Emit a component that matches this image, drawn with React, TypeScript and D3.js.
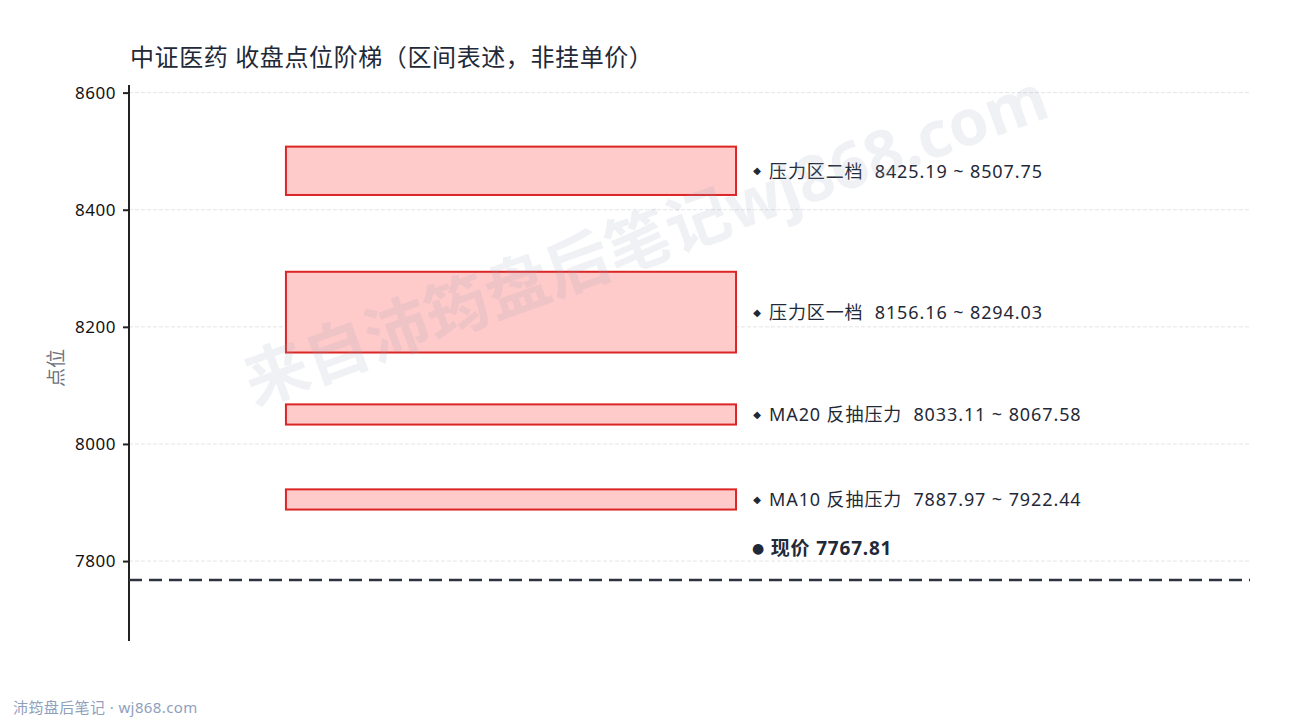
import React, { useEffect, useRef } from "react";
import * as d3 from "d3";

// Data
const zoneNames = ["压力区二档", "压力区一档", "MA20 反抽压力", "MA10 反抽压力"];
const zoneLow = [8425.19, 8156.16, 8033.11, 7887.97];
const zoneHigh = [8507.75, 8294.03, 8067.58, 7922.44];
const currentPrice = 7767.81;
const yTicks = [7800, 8000, 8200, 8400, 8600];

const W = 1290;
const H = 720;
const FONT = "'Noto Sans', 'Noto Sans CJK SC', sans-serif";

export default function App() {
    const svgRef = useRef<SVGSVGElement | null>(null);

    useEffect(() => {
        if (!svgRef.current) return;
        const svg = d3.select(svgRef.current);
        svg.selectAll("*").remove();

        const left = 129, right = 1250, top = 85, bottom = 641;
        const x = d3.scaleLinear().domain([0, 1]).range([left, right]);
        const y = d3.scaleLinear().domain([7663.5, 8613]).range([bottom, top]);

        svg.append("rect").attr("width", W).attr("height", H).attr("fill", "#ffffff");

        // Title
        svg.append("text")
            .attr("x", 130).attr("y", 66)
            .attr("font-family", FONT).attr("font-size", 24)
            .attr("letter-spacing", 0.6)
            .attr("fill", "#1f2937")
            .text("中证医药 收盘点位阶梯（区间表述，非挂单价）");

        // Grid lines
        svg.append("g").selectAll("line").data(yTicks).join("line")
            .attr("x1", left).attr("x2", right)
            .attr("y1", d => y(d)).attr("y2", d => y(d))
            .attr("stroke", "#e2e4e8").attr("stroke-width", 1)
            .attr("stroke-dasharray", "4 2");

        // Y axis
        const axis = svg.append("g")
            .attr("transform", `translate(${left},0)`)
            .call(d3.axisLeft(y).tickValues(yTicks).tickSize(6).tickPadding(7).tickFormat(d3.format("d")));
        axis.select(".domain").attr("stroke", "#222").attr("stroke-width", 2)
            .attr("d", `M0,${bottom}V${top}`);
        axis.selectAll(".tick line").attr("stroke", "#222").attr("stroke-width", 2);
        axis.selectAll(".tick text")
            .attr("font-family", FONT).attr("font-size", 17).attr("letter-spacing", 0.5).attr("fill", "#111");

        // Y label
        svg.append("text")
            .attr("transform", "translate(56,368) rotate(-90)")
            .attr("text-anchor", "middle").attr("dominant-baseline", "central")
            .attr("font-family", FONT).attr("font-size", 19).attr("fill", "#6b7280")
            .text("点位");

        // Zones
        const zones = zoneNames.map((n, i) => ({ name: n, lo: zoneLow[i], hi: zoneHigh[i] }));
        svg.append("g").selectAll("rect").data(zones).join("rect")
            .attr("x", x(0.14)).attr("width", x(0.5415) - x(0.14))
            .attr("y", d => y(d.hi)).attr("height", d => y(d.lo) - y(d.hi))
            .attr("fill", "#fecaca").attr("stroke", "#dc2626").attr("stroke-width", 2);

        const lab = svg.append("g").selectAll("g").data(zones).join("g")
            .attr("transform", d => `translate(${x(0.5415)},${y((d.lo + d.hi) / 2)})`);
        lab.append("text")
            .attr("x", 21).attr("text-anchor", "middle").attr("dominant-baseline", "central")
            .attr("font-family", "DejaVu Sans").attr("font-size", 10).attr("fill", "#1f2937")
            .text("◆");
        lab.append("text")
            .attr("x", 33).attr("dominant-baseline", "central")
            .attr("font-family", FONT).attr("font-size", 18).attr("letter-spacing", 0.9)
            .attr("fill", "#1f2937")
            .style("white-space", "pre")
            .text(d => `${d.name}  ${d.lo.toFixed(2)} ~ ${d.hi.toFixed(2)}`);

        // Current price
        svg.append("line")
            .attr("x1", left).attr("x2", right)
            .attr("y1", y(currentPrice)).attr("y2", y(currentPrice))
            .attr("stroke", "#2d3440").attr("stroke-width", 2.5)
            .attr("stroke-dasharray", "13 7");
        const cur = svg.append("text")
            .attr("x", x(0.5415) + 16).attr("y", y(currentPrice) - 32)
            .attr("dominant-baseline", "central")
            .attr("font-family", FONT).attr("font-size", 19).attr("font-weight", "bold")
            .attr("letter-spacing", 0.8)
            .attr("fill", "#1f2937");
        cur.append("tspan").attr("font-family", "DejaVu Sans").attr("font-size", 14).text("●");
        cur.append("tspan").text(` 现价 ${currentPrice.toFixed(2)}`);

        // Watermark (drawn over the zones)
        svg.append("text")
            .attr("transform", "translate(645,238) rotate(-20)")
            .attr("text-anchor", "middle").attr("dominant-baseline", "central")
            .attr("font-family", FONT).attr("font-size", 64).attr("font-weight", "bold")
            .attr("fill", "#94a3b8").attr("fill-opacity", 0.15)
            .text("来自沛筠盘后笔记wj868.com");

        // Footer
        svg.append("text")
            .attr("x", 13).attr("y", 713)
            .attr("font-family", FONT).attr("font-size", 15).attr("letter-spacing", 0.4)
            .attr("fill", "#8fa0bd")
            .text("沛筠盘后笔记 · wj868.com");
    }, []);

    return (
        <>
            <style>{"body{margin:0}"}</style>
            <svg ref={svgRef} width={W} height={H} style={{ display: "block" }} />
        </>
    );
}
